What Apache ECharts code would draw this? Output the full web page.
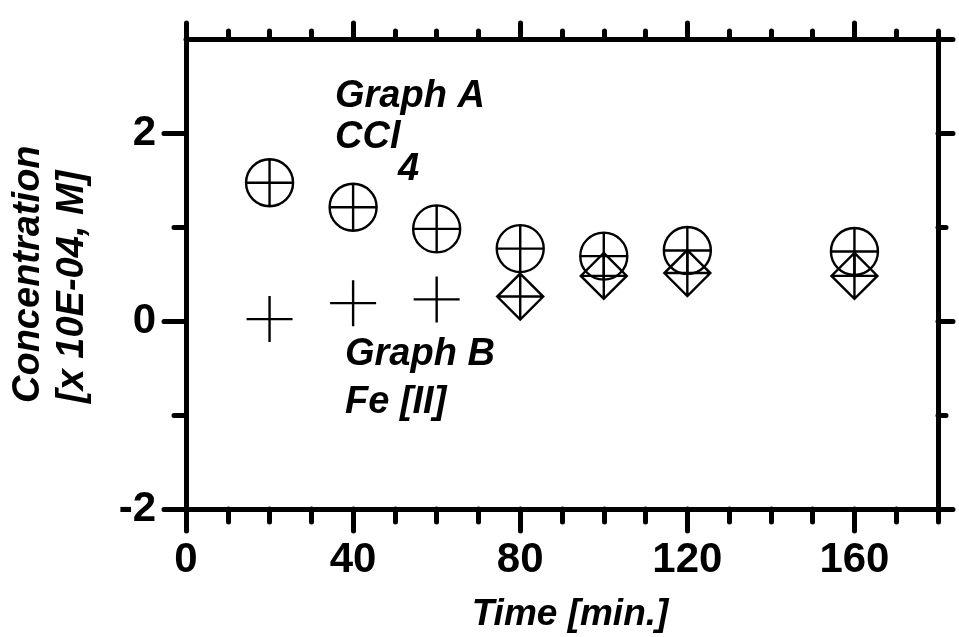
<!DOCTYPE html>
<html>
<head>
<meta charset="utf-8">
<script src="https://cdn.jsdelivr.net/npm/echarts@6/dist/echarts.min.js"></script>
<style>html,body{margin:0;padding:0;background:#fff}#c{width:959px;height:637px}</style>
</head>
<body>
<div id="c"></div>
<script>
// ---- data ----
const timeMin = [20, 40, 60, 80, 100, 120, 160];
const graphA_CCl4 = [1.47, 1.21, 0.98, 0.77, 0.69, 0.75, 0.74];
const graphB_Fe = [0.02, 0.19, 0.23, 0.26, 0.48, 0.51, 0.48];
const xMajorTicks = [0, 40, 80, 120, 160];
const xMinorTicks = [10, 20, 30, 50, 60, 70, 90, 100, 110, 130, 140, 150, 170, 180];
const yMajorTicks = [-2, 0, 2];
const yMinorTicks = [-1, 1];
const xTitle = 'Time [min.]';
const yTitle1 = 'Concentration';
const yTitle2 = '[x 10E-04, M]';

const FONT = 'Liberation Sans, Arial, sans-serif';
const circleCross = 'path://M0,-10A10,10,0,1,1,0,10A10,10,0,1,1,0,-10ZM-10,0L10,0M0,-10L0,10';
const plainCross = 'path://M-10,0L10,0M0,-10L0,10';
const diamondCross = 'path://M0,-10L10,0L0,10L-10,0ZM-10,0L10,0M0,-10L0,10';

const tickStyle = (w) => ({ color: '#000', width: w, cap: 'round' });
const axisBase = { min: 0, max: 180, type: 'value', splitLine: { show: false } };

function xAx(pos, ticks, len, showLine, showLabel) {
  return Object.assign({}, axisBase, {
    position: pos,
    axisLine: { show: showLine, onZero: false, lineStyle: { color: '#000', width: 5, cap: 'round' } },
    axisTick: { show: true, inside: false, length: len, customValues: ticks, lineStyle: tickStyle(5) },
    axisLabel: showLabel ? {
      show: true, customValues: xMajorTicks, margin: 30,
      color: '#000', fontSize: 42, fontWeight: 'bold', fontFamily: FONT
    } : { show: false }
  });
}
function yAx(pos, ticks, len, showLine, showLabel) {
  return {
    type: 'value', min: -2, max: 3, position: pos,
    splitLine: { show: false },
    axisLine: { show: showLine, onZero: false, lineStyle: { color: '#000', width: 5, cap: 'round' } },
    axisTick: { show: true, inside: false, length: len, customValues: ticks, lineStyle: tickStyle(5) },
    axisLabel: showLabel ? {
      show: true, customValues: yMajorTicks, margin: 30,
      color: '#000', fontSize: 42, fontWeight: 'bold', fontFamily: FONT
    } : { show: false }
  };
}

const markStyle = { color: 'transparent', borderColor: '#000', borderWidth: 2.4, opacity: 1 };

const chart = echarts.init(document.getElementById('c'), null, { renderer: 'canvas' });
chart.setOption({
  animation: false,
  backgroundColor: '#fff',
  grid: { left: 186, right: 21, top: 39, bottom: 128, containLabel: false },
  xAxis: [
    xAx('bottom', xMajorTicks, 22, true, true),
    xAx('bottom', xMinorTicks, 13, false, false),
    xAx('top', xMajorTicks, 16, true, false),
    xAx('top', xMinorTicks, 8, false, false)
  ],
  yAxis: [
    yAx('left', yMajorTicks, 22, true, true),
    yAx('left', yMinorTicks, 12, false, false),
    yAx('right', yMajorTicks.concat([3]), 15, true, false),
    yAx('right', yMinorTicks, 8, false, false)
  ],
  series: [
    {
      name: 'Graph A CCl4', type: 'scatter', xAxisIndex: 0, yAxisIndex: 0,
      data: timeMin.map((t, i) => [t, graphA_CCl4[i]]),
      symbol: circleCross, symbolSize: 47,
      itemStyle: markStyle
    },
    {
      name: 'Graph B Fe[II]', type: 'scatter', xAxisIndex: 0, yAxisIndex: 0,
      data: timeMin.map((t, i) => [t, graphB_Fe[i]]),
      symbol: (v) => (v[0] >= 80 ? diamondCross : plainCross), symbolSize: 46,
      itemStyle: markStyle
    }
  ],
  graphic: [
    { type: 'text', x: 335, y: 97, style: { text: 'Graph A', font: 'italic bold 38px ' + FONT, fill: '#000', textAlign: 'left', textVerticalAlign: 'middle' } },
    { type: 'text', x: 335, y: 138, style: { text: 'CCl', font: 'italic bold 38px ' + FONT, fill: '#000', textAlign: 'left', textVerticalAlign: 'middle' } },
    { type: 'text', x: 398, y: 170, style: { text: '4', font: 'italic bold 38px ' + FONT, fill: '#000', textAlign: 'left', textVerticalAlign: 'middle' } },
    { type: 'text', x: 345, y: 355, style: { text: 'Graph B', font: 'italic bold 38px ' + FONT, fill: '#000', textAlign: 'left', textVerticalAlign: 'middle' } },
    { type: 'text', x: 345, y: 403, style: { text: 'Fe [II]', font: 'italic bold 38px ' + FONT, fill: '#000', textAlign: 'left', textVerticalAlign: 'middle' } },
    { type: 'text', x: 570, y: 615, style: { text: xTitle, font: 'italic bold 37px ' + FONT, fill: '#000', textAlign: 'center', textVerticalAlign: 'middle' } },
    { type: 'text', x: 29, y: 403, rotation: Math.PI / 2, style: { text: yTitle1, font: 'italic bold 38px ' + FONT, fill: '#000', textAlign: 'left', textVerticalAlign: 'middle' } },
    { type: 'text', x: 73, y: 403, rotation: Math.PI / 2, style: { text: yTitle2, font: 'italic bold 38px ' + FONT, fill: '#000', textAlign: 'left', textVerticalAlign: 'middle' } }
  ]
});
</script>
</body>
</html>
